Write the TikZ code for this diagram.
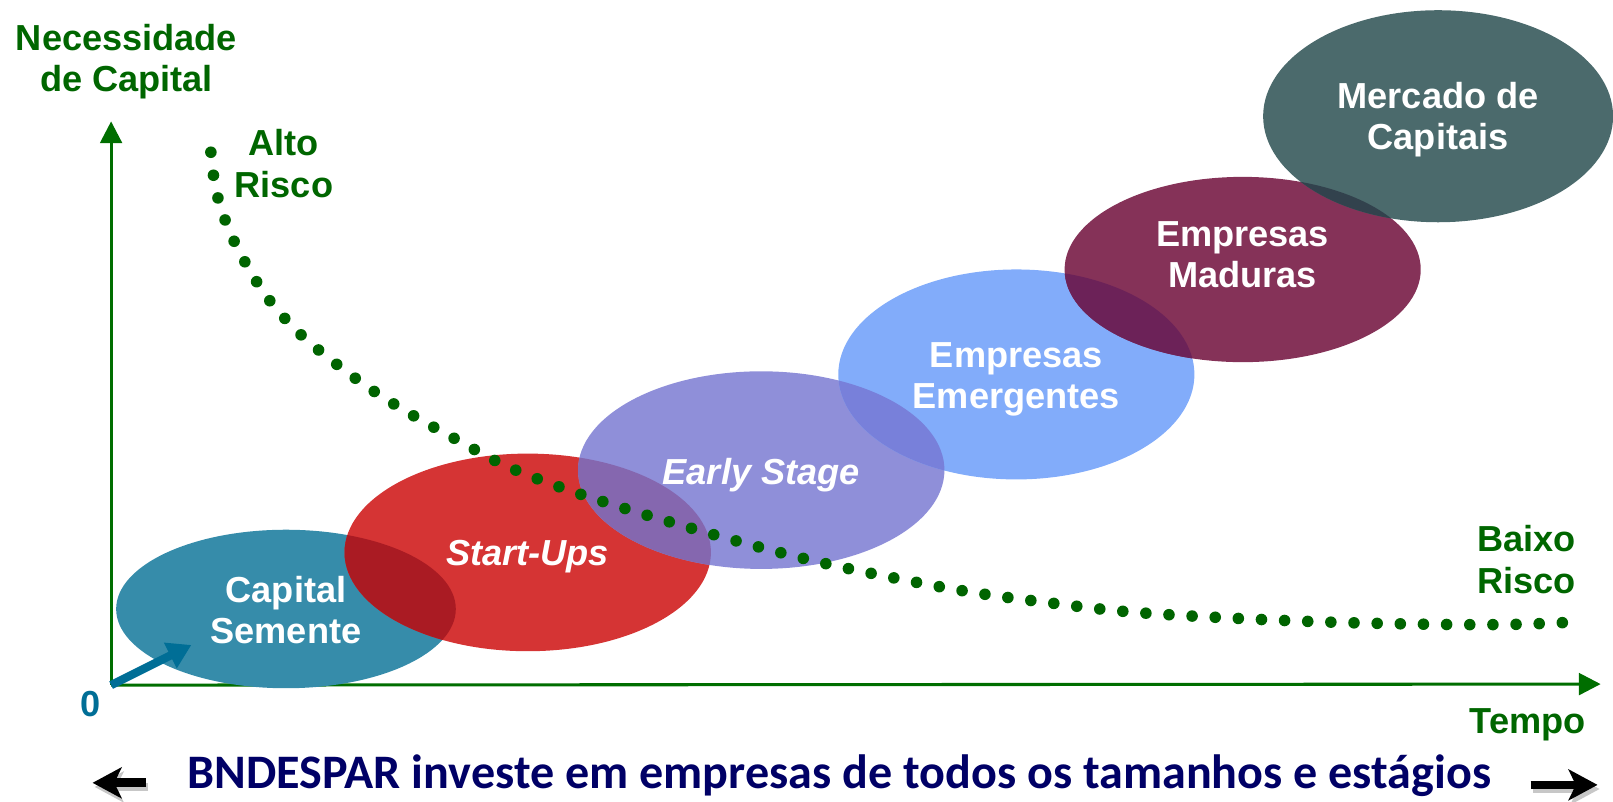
\documentclass[tikz,border=0pt]{standalone}
\usepackage{fontspec}
\setmainfont{Liberation Sans}
\newfontfamily\calibfont{Carlito}
\usetikzlibrary{arrows.meta,shapes.geometric}
\definecolor{axisgreen}{RGB}{0,110,0}
\definecolor{lblgreen}{RGB}{0,102,0}
\definecolor{dotgreen}{RGB}{0,100,0}
\definecolor{tealarrow}{RGB}{0,110,150}
\definecolor{navy}{RGB}{0,0,102}
\definecolor{cSem}{RGB}{54,140,170}
\definecolor{cSU}{RGB}{213,52,52}
\definecolor{cES}{RGB}{143,143,217}
\definecolor{cEM}{RGB}{130,172,250}
\definecolor{cMA}{RGB}{133,50,88}
\definecolor{cMC}{RGB}{75,106,108}
\definecolor{oSemSU}{RGB}{170,27,35}
\definecolor{oSUES}{RGB}{133,103,175}
\definecolor{oESEM}{RGB}{120,128,218}
\definecolor{oEMMA}{RGB}{108,34,88}
\definecolor{oMAMC}{RGB}{50,66,77}
\begin{document}
\begin{tikzpicture}[x=0.01cm,y=-0.01cm,
  stage/.style={ellipse, inner sep=0pt},
  stagetxt/.style={text=white, align=center, inner sep=0pt,
    font=\bfseries\fontsize{10}{11.4}\selectfont},
  lbl/.style={text=lblgreen, align=center, inner sep=0pt,
    font=\bfseries\fontsize{10}{11.4}\selectfont},
  axis/.style={draw=axisgreen, line width=0.85pt, -{Triangle[length=6pt,width=6pt]}},
  dots/.style={draw=dotgreen, line width=3.2pt, line cap=round, dash pattern=on 0pt off 6.4pt},
  bigarrow/.style={draw=black, line width=2.4pt, -{Stealth[length=8pt,width=8.5pt,inset=2pt]}},
  shadowarrow/.style={draw=black!22, line width=2.4pt, -{Stealth[length=8pt,width=8.5pt,inset=2pt]}}]
\useasboundingbox (0,0) rectangle (1568,779);

% axes
\coordinate (O) at (108,666);
\coordinate (ytop) at (108,118);
\coordinate (xend) at (1556,665);
\draw[axis] (O) -- (ytop);
\draw[axis] (O) -- (xend);

% ellipses
\node[stage, fill=cSem, minimum width=3.30cm, minimum height=1.54cm,
  label={[stagetxt, yshift=-0.01cm]center:{Capital\\Semente}}] (sem) at (278,592) {};
\node[stage, fill=cSU, minimum width=3.56cm, minimum height=1.92cm,
  label={[stagetxt, yshift=-0.04cm]center:{\itshape Start-Ups}}] (su) at (513,537) {};
\node[stage, fill=cES, minimum width=3.56cm, minimum height=1.92cm,
  label={[stagetxt, yshift=-0.05cm]center:{\itshape Early Stage}}] (es) at (740,457) {};
\node[stage, fill=cEM, minimum width=3.46cm, minimum height=2.04cm,
  label={[stagetxt, yshift=-0.05cm]center:{Empresas\\Emergentes}}] (em) at (988,364) {};
\node[stage, fill=cMA, minimum width=3.46cm, minimum height=1.80cm,
  label={[stagetxt, yshift=0.14cm]center:{Empresas\\Maduras}}] (ma) at (1208,262) {};
\node[stage, fill=cMC, minimum width=3.40cm, minimum height=2.06cm,
  label={[stagetxt, yshift=-0.03cm]center:{Mercado de\\Capitais}}] (mc) at (1398,113) {};

% overlaps
\begin{scope}
  \clip (sem.center) ellipse [x radius=1.65cm, y radius=0.77cm];
  \fill[oSemSU] (su.center) ellipse [x radius=1.78cm, y radius=0.96cm];
\end{scope}
\begin{scope}
  \clip (su.center) ellipse [x radius=1.78cm, y radius=0.96cm];
  \fill[oSUES] (es.center) ellipse [x radius=1.78cm, y radius=0.96cm];
\end{scope}
\begin{scope}
  \clip (es.center) ellipse [x radius=1.78cm, y radius=0.96cm];
  \fill[oESEM] (em.center) ellipse [x radius=1.73cm, y radius=1.02cm];
\end{scope}
\begin{scope}
  \clip (em.center) ellipse [x radius=1.73cm, y radius=1.02cm];
  \fill[oEMMA] (ma.center) ellipse [x radius=1.73cm, y radius=0.90cm];
\end{scope}
\begin{scope}
  \clip (ma.center) ellipse [x radius=1.73cm, y radius=0.90cm];
  \fill[oMAMC] (mc.center) ellipse [x radius=1.70cm, y radius=1.03cm];
\end{scope}

% teal arrow
\coordinate (tip) at (186,627);
\draw[draw=tealarrow, line width=2.3pt, -{Triangle[length=6.5pt,width=7.5pt]}] (O) -- (tip);

% dotted risk curve
\draw[dots] plot[smooth, tension=0.6] coordinates {(205,148) (210,185) (222,222) (240,258) (262,292) (290,323) (322,350) (360,378) (400,403) (445,428) (490,452) (540,472) (600,492) (660,510) (720,527) (790,545) (860,560) (940,575) (1020,586) (1100,595) (1200,601) (1300,605) (1400,607) (1470,607) (1525,605)};

% labels
\node[lbl] (nec) at (123,60) {Necessidade\\de Capital};
\node[lbl] (alto) at (276,159) {Alto\\Risco};
\node[lbl] (baixo) at (1484,544) {Baixo\\Risco};
\node[lbl] (tempo) at (1485,705) {Tempo};
\node[text=tealarrow, inner sep=0pt, font=\bfseries\fontsize{10}{11.4}\selectfont] (zero) at (88,684) {0};
\node[text=navy, inner sep=0pt, font=\calibfont\bfseries\fontsize{13.3}{15}\selectfont] (bnd) at (816,754) {BNDESPAR investe em empresas de todos os tamanhos e estágios};

% bottom arrows
\coordinate (la1) at (142,761);
\coordinate (la2) at (90,761);
\coordinate (ra1) at (1488,763);
\coordinate (ra2) at (1553,763);
\draw[shadowarrow] ([shift={(2,4)}]la1) -- ([shift={(2,4)}]la2);
\draw[shadowarrow] ([shift={(2,4)}]ra1) -- ([shift={(2,4)}]ra2);
\draw[bigarrow] (la1) -- (la2);
\draw[bigarrow] (ra1) -- (ra2);
\end{tikzpicture}
\end{document}
